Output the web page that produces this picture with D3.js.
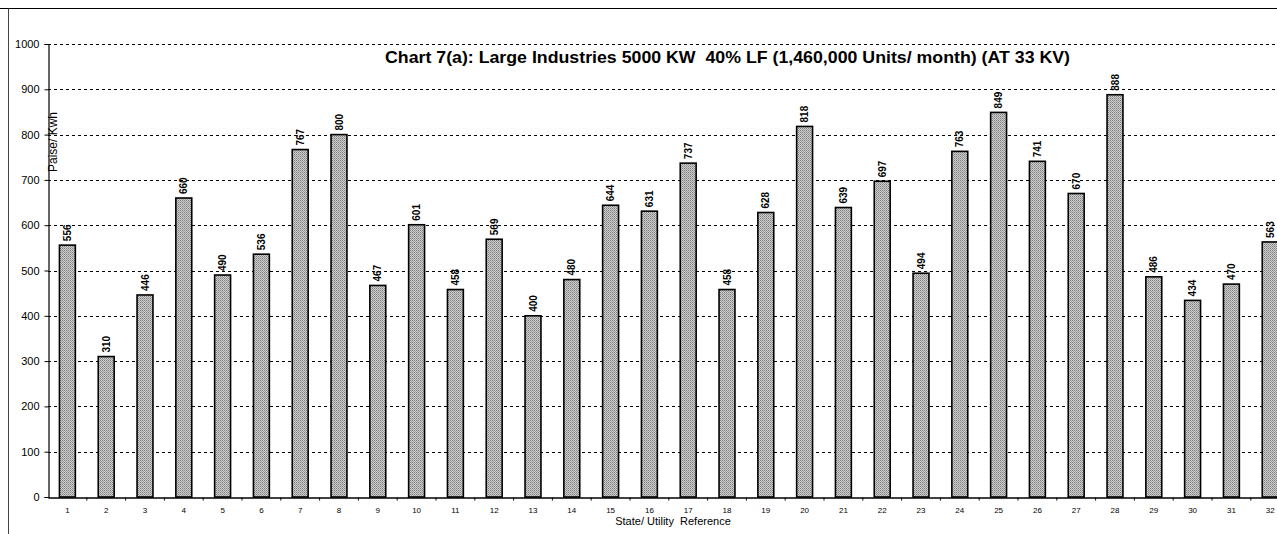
<!DOCTYPE html>
<html>
<head>
<meta charset="utf-8">
<script src="https://cdn.jsdelivr.net/npm/d3@7"></script>
<style>
  html, body { margin: 0; padding: 0; background: #fff; overflow: hidden; }
  svg { display: block; }
  text { font-family: "Liberation Sans", Arial, sans-serif; fill: #000; white-space: pre; }
</style>
</head>
<body>
<svg id="chart" width="1277" height="534"></svg>
<script>
const categories = ["1","2","3","4","5","6","7","8","9","10","11","12","13","14","15","16",
                    "17","18","19","20","21","22","23","24","25","26","27","28","29","30","31","32"];
const values = [556, 310, 446, 660, 490, 536, 767, 800, 467, 601, 458, 569, 400, 480, 644, 631,
                737, 458, 628, 818, 639, 697, 494, 763, 849, 741, 670, 888, 486, 434, 470, 563];
const yTicks = [0, 100, 200, 300, 400, 500, 600, 700, 800, 900, 1000];
const titleText = "Chart 7(a): Large Industries 5000 KW  40% LF (1,460,000 Units/ month) (AT 33 KV)";
const yLabel = "Paise/ Kwh";
const xLabel = "State/ Utility  Reference";

const svg = d3.select("#chart");

// stipple pattern for bars
const defs = svg.append("defs");
const pat = defs.append("pattern").attr("id", "stip")
  .attr("width", 2).attr("height", 2).attr("patternUnits", "userSpaceOnUse");
pat.append("rect").attr("width", 2).attr("height", 2).attr("fill", "#cfcfcf");
pat.append("rect").attr("x", 0).attr("y", 0).attr("width", 1).attr("height", 1).attr("fill", "#7e7e7e");
pat.append("rect").attr("x", 1).attr("y", 1).attr("width", 1).attr("height", 1).attr("fill", "#9c9c9c");

const left = 48, step = 38.8;
const x = d3.scaleBand().domain(categories)
  .range([left, left + step * categories.length])
  .paddingInner(0.59).paddingOuter(0.295);
const y = d3.scaleLinear().domain([0, 1000]).range([497, 44]);

// frame lines (scan border)
svg.append("line").attr("x1", 0).attr("x2", 1277).attr("y1", 8.5).attr("y2", 8.5)
  .attr("stroke", "#000").attr("stroke-width", 1);
svg.append("line").attr("x1", 8.5).attr("x2", 8.5).attr("y1", 8.5).attr("y2", 534)
  .attr("stroke", "#444").attr("stroke-width", 1);

// gridlines
svg.append("g").selectAll("line").data(yTicks.filter(d => d > 0)).join("line")
  .attr("x1", left).attr("x2", 1277)
  .attr("y1", d => Math.round(y(d)) + 0.5).attr("y2", d => Math.round(y(d)) + 0.5)
  .attr("stroke", "#000").attr("stroke-width", 1.2).attr("stroke-dasharray", "3,3");

// y axis
const yAxis = d3.axisLeft(y).tickValues(yTicks).tickFormat(d3.format("d")).tickSize(4).tickPadding(5);
const gy = svg.append("g").attr("transform", `translate(${left + 0.5},0)`).call(yAxis);
gy.select(".domain").attr("stroke", "#000").attr("stroke-width", 1.2);
gy.selectAll(".tick line").attr("stroke", "#000");
gy.selectAll("text").attr("font-size", 11).attr("font-family", "Liberation Sans, Arial, sans-serif");

// x axis
const xAxis = d3.axisBottom(x).tickSize(0).tickPadding(10);
const gx = svg.append("g").attr("transform", `translate(0,${y(0) + 0.5})`).call(xAxis);
gx.select(".domain").attr("stroke", "#000").attr("stroke-width", 1.5);
gx.selectAll("text").attr("font-size", 8).attr("font-family", "Liberation Sans, Arial, sans-serif");
// small ticks at band boundaries
gx.append("g").selectAll("line").data(categories.slice(1)).join("line")
  .attr("x1", d => x(d) - (x.step() - x.bandwidth()) / 2)
  .attr("x2", d => x(d) - (x.step() - x.bandwidth()) / 2)
  .attr("y1", 0).attr("y2", 3).attr("stroke", "#000");

// bars
svg.append("g").selectAll("rect").data(values).join("rect")
  .attr("x", (d, i) => x(categories[i]))
  .attr("y", d => y(d))
  .attr("width", x.bandwidth())
  .attr("height", d => y(0) - y(d))
  .attr("fill", "url(#stip)")
  .attr("stroke", "#000").attr("stroke-width", 1.6);

// value labels
svg.append("g").selectAll("text").data(values).join("text")
  .attr("transform", (d, i) => `translate(${x(categories[i]) + x.bandwidth() / 2},${y(d) - 4}) rotate(-90)`)
  .attr("dy", "0.35em")
  .attr("text-anchor", "start")
  .attr("font-size", 10)
  .attr("font-weight", "bold")
  .text(d => d);

// title
svg.append("text").attr("x", 385).attr("y", 63).attr("text-anchor", "start")
  .attr("font-size", 17).attr("font-weight", "bold")
  .attr("textLength", 685).attr("lengthAdjust", "spacingAndGlyphs")
  .text(titleText);

// y label
svg.append("text").attr("transform", "translate(57,142) rotate(-90)")
  .attr("text-anchor", "middle").attr("font-size", 12).text(yLabel);

// x label
svg.append("text").attr("x", 673).attr("y", 525).attr("text-anchor", "middle")
  .attr("font-size", 11).text(xLabel);
</script>
</body>
</html>
